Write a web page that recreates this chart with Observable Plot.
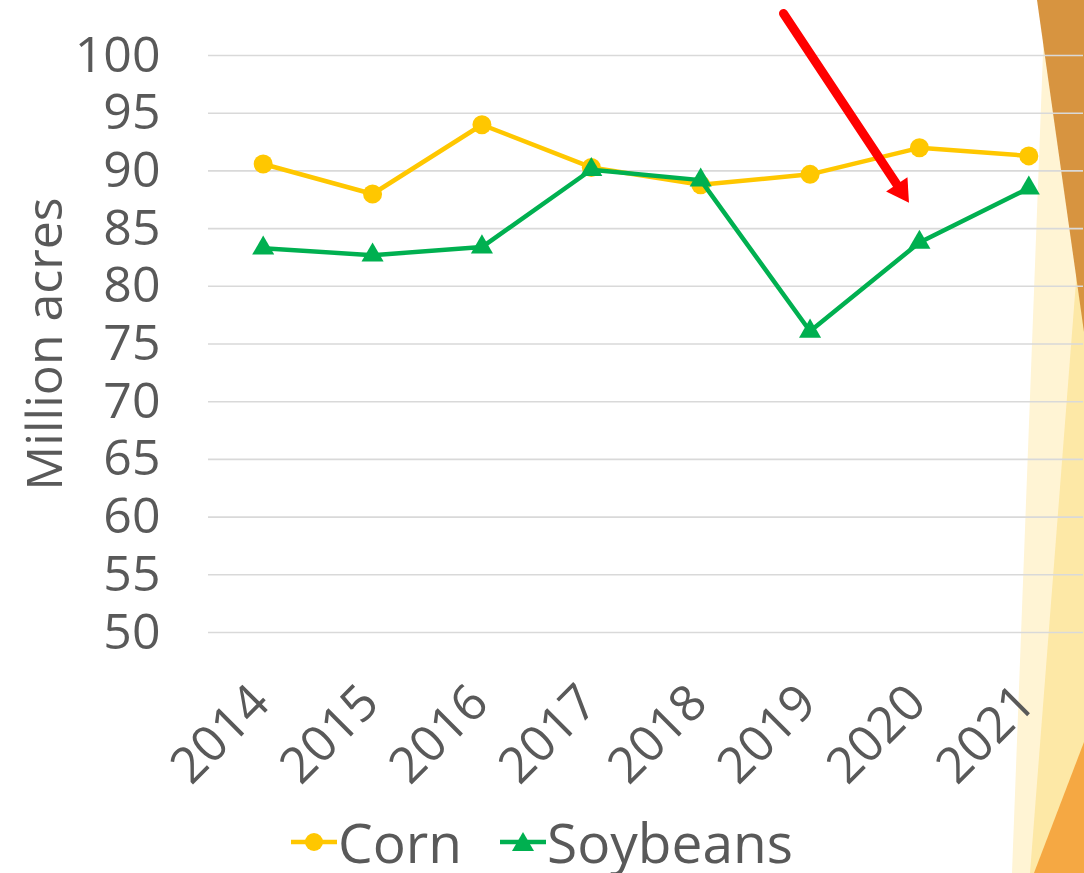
<!DOCTYPE html>
<html>
<head>
<meta charset="utf-8">
<script src="https://cdn.jsdelivr.net/npm/d3@7"></script>
<script src="https://cdn.jsdelivr.net/npm/@observablehq/plot@0.6"></script>
<style>
  html, body { margin: 0; padding: 0; background: #fff; overflow: hidden; }
  #wrap { position: relative; width: 1084px; height: 873px; font-family: 'Open Sans', sans-serif; color: #595959; }
  #deco { position: absolute; left: 0; top: 0; z-index: 0; }
  #chart { position: absolute; left: 0; top: 0; z-index: 1; }
  #legend { position: absolute; left: 0; top: 812px; width: 1084px; height: 60px;
            display: flex; justify-content: center; align-items: center; z-index: 2; font-size: 55px; }
  .item { display: flex; align-items: center; height: 60px; }
  .item svg { display: block; margin-right: 1px; }
  .item span { display: block; height: 60px; line-height: 60px; }
</style>
</head>
<body>
<div id="wrap">
  <svg id="deco" width="1084" height="873"></svg>
  <div id="chart"></div>
  <div id="legend"></div>
</div>
<script>
// ---- data ----
const years = [2014, 2015, 2016, 2017, 2018, 2019, 2020, 2021];
const corn = [90.6, 88.0, 94.0, 90.3, 88.8, 89.7, 92.0, 91.3];
const soybeans = [83.3, 82.7, 83.4, 90.1, 89.2, 76.1, 83.8, 88.5];
const seriesNames = ["Corn", "Soybeans"];
const seriesColors = ["#FFC700", "#00B050"];
const yTicks = [50, 55, 60, 65, 70, 75, 80, 85, 90, 95, 100];
const yLabel = "Million acres";
// annotation arrow (data units: year, million acres)
const arrowPath = [{x: 2018.757, y: 103.64}, {x: 2019.83, y: 88.3}];

const cornData = years.map((y, i) => ({year: y, value: corn[i]}));
const soyData = years.map((y, i) => ({year: y, value: soybeans[i]}));

// ---- decorative slide shapes (background) ----
const deco = d3.select("#deco");
[
  {pts: "1045,0 1084,0 1084,873 1012,873", fill: "#FFF4D4"},
  {pts: "1080,230 1084,210 1084,873 1030,873", fill: "#FDE8A6"},
  {pts: "1037,0 1084,0 1084,332", fill: "#D79440"},
  {pts: "1034,873 1084,742 1084,873", fill: "#F5A843"}
].forEach(s => deco.append("polygon").attr("points", s.pts).attr("fill", s.fill));

// ---- chart ----
const chart = Plot.plot({
  width: 1084,
  height: 800,
  marginLeft: 208,
  marginRight: 1,
  marginTop: 55,
  marginBottom: 168,
  x: {type: "linear", domain: [2013.5, 2021.5], axis: null},
  y: {domain: [50, 100], axis: null},
  style: {fontFamily: "'Open Sans', sans-serif", color: "#595959", background: "transparent", overflow: "visible"},
  marks: [
    Plot.gridY(yTicks, {stroke: "#D9D9D9", strokeOpacity: 1, strokeWidth: 1.6}),
    Plot.axisY(yTicks, {tickSize: 0, tickPadding: 48, fontSize: 50, tickFormat: d => String(d), label: null, fill: "#595959"}),
    Plot.text(years, {x: d => d, y: () => 50, text: d => String(d), rotate: -45, textAnchor: "end",
                      lineAnchor: "bottom", dx: 9, dy: 73, fontSize: 50, fill: "#595959"}),
    Plot.text([yLabel], {x: () => 2013.5, y: () => 75, text: d => d, rotate: -90, dx: -163,
                         fontSize: 50, fill: "#595959"}),
    Plot.line(cornData, {x: "year", y: "value", stroke: seriesColors[0], strokeWidth: 4.5}),
    Plot.dot(cornData, {x: "year", y: "value", r: 9.5, fill: seriesColors[0], symbol: "circle"}),
    Plot.line(soyData, {x: "year", y: "value", stroke: seriesColors[1], strokeWidth: 4.5}),
    Plot.dot(soyData, {x: "year", y: "value", r: 8.2, fill: seriesColors[1], symbol: "triangle"}),
    Plot.line(arrowPath, {x: "x", y: "y", stroke: "#FF0000", strokeWidth: 9, strokeLinecap: "round"}),
    Plot.dot([arrowPath[1]], {x: "x", y: "y", r: 9.5, symbol: "triangle", fill: "#FF0000", rotate: 146.5})
  ]
});
document.getElementById("chart").appendChild(chart);

// ---- legend ----
const legend = d3.select("#legend");
seriesNames.forEach((name, i) => {
  const item = legend.append("div").attr("class", "item").style("margin-left", i ? "38px" : "0px");
  const svg = item.append("svg").attr("width", 46).attr("height", 24);
  svg.append("line").attr("x1", 0).attr("x2", 46).attr("y1", 12).attr("y2", 12)
     .attr("stroke", seriesColors[i]).attr("stroke-width", 4.5);
  if (i === 0) svg.append("circle").attr("cx", 23).attr("cy", 12).attr("r", 9).attr("fill", seriesColors[i]);
  else svg.append("polygon").attr("points", "12,21 34,21 23,2").attr("fill", seriesColors[i]);
  item.append("span").text(name);
});
</script>
</body>
</html>
